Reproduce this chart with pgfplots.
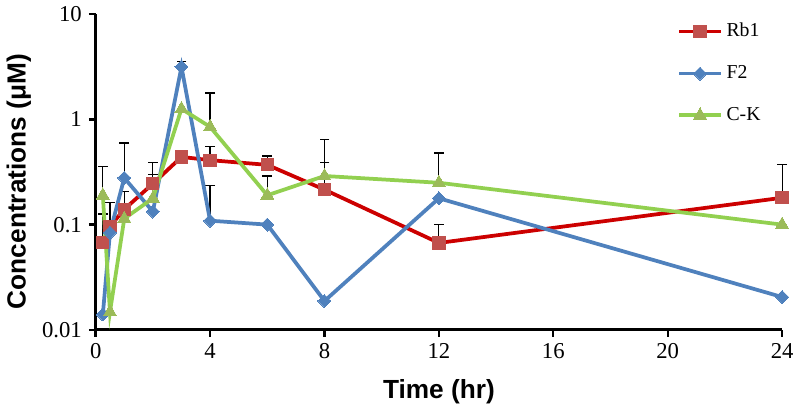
\documentclass[border=0pt]{standalone}
\usepackage{fontspec}
\setmainfont{Liberation Serif}
\newfontfamily\labelfont{Liberation Sans}
\usepackage{pgfplots}
\usepackage{pgfplotstable}
\pgfplotsset{compat=1.18}

\definecolor{rbline}{HTML}{CC0000}
\definecolor{rbmark}{HTML}{C0504D}
\definecolor{ftwo}{HTML}{4F81BD}
\definecolor{ckline}{HTML}{92D050}
\definecolor{ckmark}{HTML}{9BBB59}

% fixed-width error bar cap and an even diamond
\pgfdeclareplotmark{cap}{%
  \pgfpathmoveto{\pgfqpoint{0pt}{-2.5pt}}%
  \pgfpathlineto{\pgfqpoint{0pt}{2.5pt}}%
  \pgfusepathqstroke}
\pgfdeclareplotmark{sqdiamond}{%
  \pgfpathmoveto{\pgfqpoint{0pt}{\pgfplotmarksize}}%
  \pgfpathlineto{\pgfqpoint{\pgfplotmarksize}{0pt}}%
  \pgfpathlineto{\pgfqpoint{0pt}{-\pgfplotmarksize}}%
  \pgfpathlineto{\pgfqpoint{-\pgfplotmarksize}{0pt}}%
  \pgfpathclose
  \pgfusepathqfillstroke}

% time (hr), mean
\pgfplotstableread{
t v
0.25 0.068
0.5 0.096
1 0.14
2 0.245
3 0.44
4 0.41
6 0.37
8 0.215
12 0.067
24 0.18
}\rbtab

\pgfplotstableread{
t v
0.25 0.014
0.5 0.084
1 0.278
2 0.133
3 3.16
4 0.109
6 0.1
8 0.0188
12 0.178
24 0.0205
}\ftab

\pgfplotstableread{
t v
0.25 0.19
0.5 0.0148
1 0.114
2 0.178
3 1.26
4 0.85
6 0.19
8 0.29
12 0.25
24 0.1
}\cktab

% upper error bars (only where drawn)
\pgfplotstableread{
t v e
0.25 0.068 0.058
0.5 0.096 0.067
1 0.14 0.065
2 0.245 0.145
4 0.41 0.14
6 0.37 0.08
8 0.215 0.175
12 0.067 0.033
24 0.18 0.19
}\rberr

\pgfplotstableread{
t v e
1 0.278 0.32
3 3.16 0.42
4 0.109 0.128
}\ferr

\pgfplotstableread{
t v e
0.25 0.19 0.167
2 0.178 0.12
4 0.85 0.93
6 0.19 0.10
8 0.29 0.36
12 0.25 0.23
}\ckerr

\begin{document}
\begin{tikzpicture}
\begin{axis}[
    scale only axis,
    width=348pt, height=160pt,
    xmin=0, xmax=24,
    ymode=log, ymin=0.01, ymax=10,
    xtick={0,4,8,12,16,20,24},
    xticklabels={0,4,8,12,16,20,24},
    ytick={0.01,0.1,1,10},
    yticklabels={0.01,0.1,1,10},
    yminorticks=false,
    axis x line=bottom, axis y line=left,
    axis line style={-, line width=1.5pt, black},
    tick align=outside,
    major tick length=3.5pt,
    tick style={line width=1.2pt, black},
    ticklabel style={font=\fontsize{11.5}{13}\selectfont},
    xlabel={Time (hr)},
    ylabel={Concentrations (μM)},
    label style={font=\labelfont\bfseries\fontsize{13.3}{15}\selectfont},
    xlabel style={at={(axis description cs:0.5,-0.197)}, anchor=center},
    ylabel style={at={(axis description cs:-0.112,0.47)}, anchor=center},
    clip=false,
    legend style={draw=none, fill=none, at={(axis description cs:0.847,0.985)},
        anchor=north west, font=\fontsize{10}{12}\selectfont,
        row sep=9pt, inner sep=0pt},
    legend cell align=left,
    legend image code/.code={\draw[mark repeat=2,mark phase=2]
        plot coordinates {(0pt,0pt) (10.5pt,0pt) (21pt,0pt)};},
    errplot/.style={forget plot, mark=none, draw=none,
        error bars/.cd, y dir=plus, y explicit,
        error bar style={draw=black, line width=0.6pt},
        error mark=cap,
        error mark options={draw=black, line width=0.6pt}},
]
\addplot[errplot] table[x=t, y=v, y error=e] {\rberr};
\addplot[errplot] table[x=t, y=v, y error=e] {\ferr};
\addplot[errplot] table[x=t, y=v, y error=e] {\ckerr};

\addplot[rbline, line width=1.9pt, mark=square*, mark size=3.1pt,
    mark options={draw=rbmark, fill=rbmark, line width=0pt}]
    table[x=t, y=v] {\rbtab};
\addlegendentry{Rb1}
\addplot[ftwo, line width=1.9pt, mark=sqdiamond, mark size=3.3pt,
    mark options={draw=ftwo, fill=ftwo, line width=0pt}]
    table[x=t, y=v] {\ftab};
\addlegendentry{F2}
\addplot[ckline, line width=1.9pt, mark=triangle*, mark size=3.8pt,
    mark options={draw=ckmark, fill=ckmark, line width=0pt}]
    table[x=t, y=v] {\cktab};
\addlegendentry{C-K}
\end{axis}
\end{tikzpicture}
\end{document}
